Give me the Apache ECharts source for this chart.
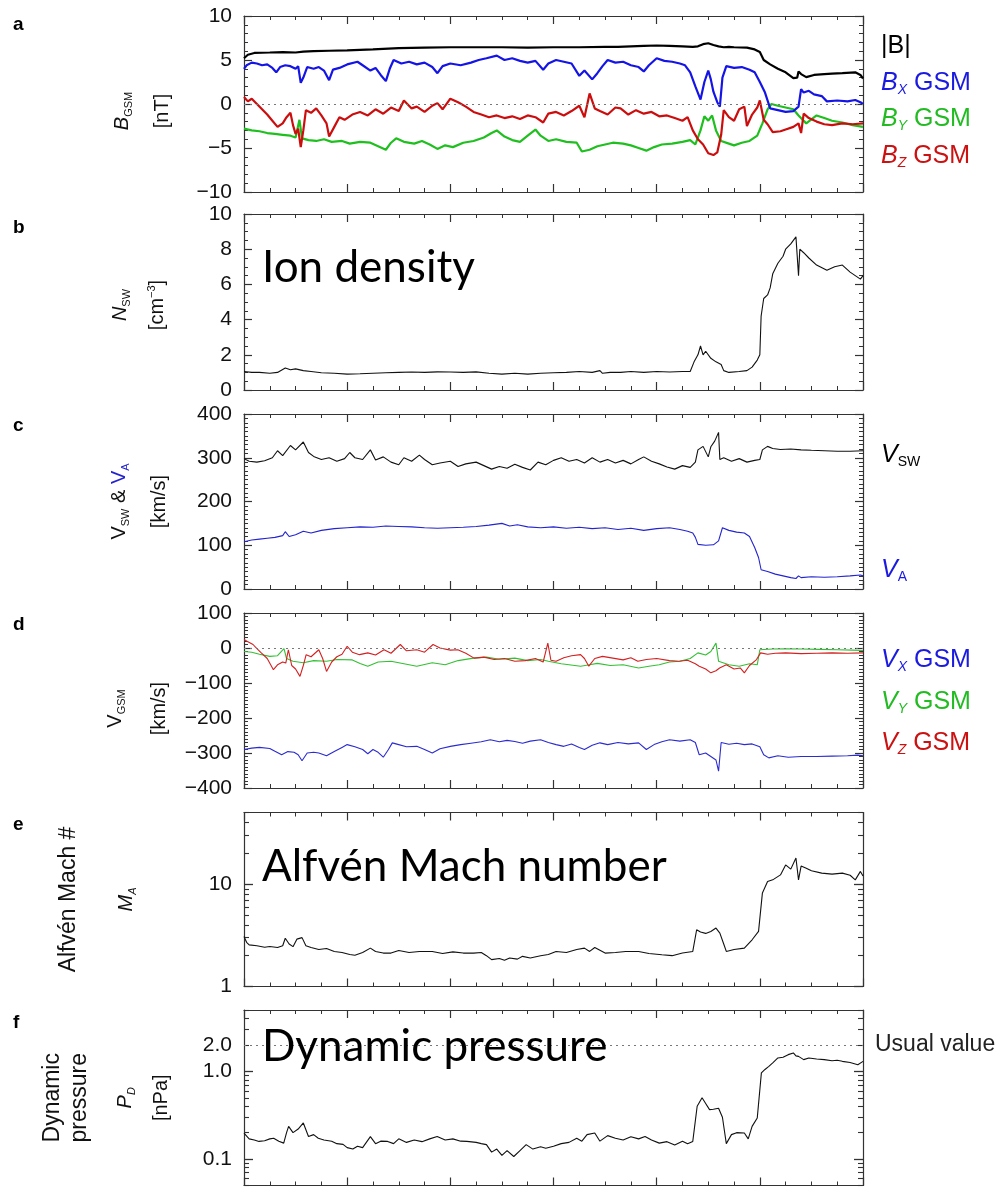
<!DOCTYPE html>
<html><head><meta charset="utf-8">
<script src="https://cdn.jsdelivr.net/npm/echarts@6/dist/echarts.min.js"></script>
<style>html,body{margin:0;padding:0;background:#fff}#c{width:1004px;height:1192px}</style>
</head><body><div id="c"></div><script>
// ---------- data (time in hours) ----------
const bAbs = [[0,5.2],[0.15,5.6],[0.4,5.8],[1,5.85],[1.5,5.9],[2,5.85],[2.3,5.95],[2.7,6.0],[3.3,6.05],[4,6.1],[5,6.2],[5.6,6.3],[6,6.35],[7,6.4],[8,6.45],[9,6.45],[10,6.45],[11,6.4],[12,6.45],[13,6.45],[14,6.5],[14.5,6.5],[15,6.55],[15.5,6.6],[16,6.65],[16.5,6.6],[17,6.55],[17.4,6.5],[17.6,6.55],[17.8,6.8],[18,6.9],[18.2,6.7],[18.4,6.55],[18.6,6.45],[18.8,6.5],[19,6.45],[19.5,6.4],[19.8,6.2],[20,5.9],[20.15,5.0],[20.4,4.5],[20.7,4.0],[21,3.6],[21.3,2.95],[21.45,3.0],[21.5,3.7],[21.6,3.4],[21.8,3.05],[22.1,3.3],[22.5,3.4],[22.8,3.45],[23.2,3.5],[23.7,3.6],[23.9,3.3],[24,2.9]];
const bX = [[0,4.0],[0.1,4.4],[0.3,4.7],[0.5,4.6],[0.7,4.4],[0.9,4.5],[1.1,4.1],[1.25,3.6],[1.4,4.2],[1.6,4.4],[1.8,4.3],[2.0,4.0],[2.1,4.3],[2.2,2.4],[2.3,3.0],[2.45,4.2],[2.7,4.0],[2.9,4.2],[3.1,3.8],[3.3,2.7],[3.45,3.9],[3.7,4.1],[4.0,4.5],[4.4,4.8],[4.6,4.4],[4.9,3.8],[5.1,4.1],[5.3,3.3],[5.5,2.6],[5.65,4.0],[5.8,5.0],[6.1,4.6],[6.4,4.8],[6.7,4.5],[7.0,4.7],[7.3,4.2],[7.5,3.5],[7.7,4.3],[8.0,4.6],[8.4,4.4],[8.8,4.7],[9.1,5.0],[9.4,5.2],[9.8,5.5],[10.1,5.0],[10.4,5.2],[10.7,4.9],[11.0,4.7],[11.3,4.9],[11.6,3.9],[11.8,4.6],[12.1,5.0],[12.4,4.8],[12.7,4.6],[13.0,3.2],[13.2,3.8],[13.5,2.8],[13.7,3.5],[13.9,4.3],[14.1,5.0],[14.4,4.7],[14.7,4.8],[15.0,4.4],[15.3,4.2],[15.5,3.7],[15.7,4.4],[16.0,5.2],[16.3,4.9],[16.6,4.8],[16.9,4.6],[17.1,4.4],[17.3,3.6],[17.5,2.0],[17.7,0.5],[17.85,2.5],[18.0,3.8],[18.1,2.8],[18.2,1.4],[18.35,0.2],[18.45,-0.3],[18.55,3.0],[18.7,4.3],[19.0,4.1],[19.3,4.2],[19.6,3.9],[19.8,3.6],[20.0,2.5],[20.2,1.3],[20.4,-0.5],[20.7,-0.7],[21.0,-0.9],[21.3,-0.8],[21.5,-0.3],[21.6,1.7],[21.7,1.3],[21.9,1.5],[22.1,1.1],[22.4,0.9],[22.6,0.3],[23.0,0.4],[23.4,0.3],[23.7,0.45],[23.9,0.2],[24,0.0]];
const bY = [[0,-2.8],[0.3,-3.0],[0.6,-3.1],[0.9,-3.3],[1.2,-3.4],[1.5,-3.5],[1.8,-3.6],[2.0,-3.8],[2.15,-1.8],[2.25,-3.9],[2.5,-4.1],[2.8,-4.2],[3.1,-4.0],[3.4,-4.3],[3.8,-4.2],[4.1,-4.5],[4.5,-4.3],[4.9,-4.4],[5.2,-4.8],[5.5,-5.2],[5.7,-4.4],[5.9,-3.9],[6.2,-4.3],[6.6,-4.5],[6.9,-4.2],[7.2,-4.6],[7.5,-5.1],[7.8,-4.7],[8.1,-4.9],[8.5,-4.4],[8.9,-4.2],[9.3,-3.8],[9.6,-3.3],[9.8,-3.0],[10.1,-3.7],[10.4,-4.1],[10.7,-4.3],[11.0,-3.6],[11.3,-2.9],[11.5,-3.6],[11.8,-4.2],[12.1,-4.0],[12.5,-4.3],[12.9,-4.4],[13.1,-5.4],[13.4,-5.2],[13.7,-4.8],[14.0,-4.6],[14.3,-4.4],[14.7,-4.5],[15.0,-4.7],[15.3,-5.0],[15.6,-5.3],[15.9,-4.9],[16.2,-4.6],[16.6,-4.5],[17.0,-4.3],[17.3,-4.1],[17.5,-4.6],[17.7,-3.0],[17.85,-1.4],[18.0,-1.9],[18.15,-1.3],[18.3,-3.0],[18.5,-4.2],[18.8,-4.5],[19.0,-4.7],[19.3,-4.4],[19.6,-4.2],[19.9,-3.6],[20.1,-2.2],[20.3,-0.6],[20.45,0.0],[20.7,-0.2],[21.0,-0.4],[21.3,-0.6],[21.5,-1.3],[21.8,-2.2],[22.2,-1.3],[22.5,-1.6],[22.8,-1.9],[23.2,-2.1],[23.6,-2.4],[24,-2.6]];
const bZ = [[0,0.8],[0.15,0.3],[0.3,0.6],[0.5,0.0],[0.7,-0.6],[0.9,-1.2],[1.1,-1.9],[1.3,-2.6],[1.5,-2.2],[1.65,-1.5],[1.8,-1.0],[1.9,-2.4],[2.0,-3.4],[2.1,-2.8],[2.2,-4.9],[2.3,-3.0],[2.4,-0.7],[2.6,-1.0],[2.8,-0.5],[3.0,-1.3],[3.2,-2.2],[3.3,-3.7],[3.5,-2.6],[3.7,-1.5],[3.9,-1.8],[4.2,-1.2],[4.5,-0.9],[4.8,-1.3],[5.1,-0.6],[5.4,-1.1],[5.7,-0.4],[6.0,-0.8],[6.2,0.4],[6.5,-0.5],[6.7,-0.3],[7.0,-0.9],[7.3,-0.2],[7.5,0.1],[7.7,-0.6],[8.0,0.6],[8.3,0.2],[8.6,-0.3],[8.9,-0.9],[9.2,-1.2],[9.5,-1.5],[9.8,-1.3],[10.1,-1.6],[10.4,-1.4],[10.7,-1.7],[11.0,-1.3],[11.3,-1.5],[11.6,-2.1],[11.8,-1.1],[12.1,-0.9],[12.4,-1.3],[12.7,-0.8],[13.0,-0.2],[13.2,-1.5],[13.4,1.2],[13.6,-0.5],[13.8,-0.8],[14.1,-1.2],[14.4,-0.4],[14.6,-0.5],[14.9,-1.2],[15.2,-0.7],[15.5,-1.1],[15.8,-0.9],[16.1,-1.4],[16.4,-1.3],[16.7,-1.6],[17.0,-1.9],[17.2,-1.5],[17.4,-3.0],[17.6,-4.0],[17.8,-4.6],[18.0,-5.6],[18.2,-5.8],[18.35,-5.5],[18.5,-3.5],[18.6,-0.7],[18.8,-1.5],[19.0,-1.9],[19.2,-0.6],[19.4,-0.3],[19.5,-2.5],[19.7,-1.2],[19.9,-0.4],[20.0,0.4],[20.15,-1.8],[20.3,-2.3],[20.5,-3.2],[20.8,-3.1],[21.0,-2.9],[21.3,-2.6],[21.5,-2.2],[21.6,-3.3],[21.7,-1.1],[21.9,-1.6],[22.2,-2.0],[22.5,-2.3],[22.8,-2.4],[23.2,-2.2],[23.6,-2.3],[24,-2.2]];
const nSw = [[0,1.05],[0.3,1.0],[0.6,1.0],[1.0,0.95],[1.3,1.0],[1.6,1.25],[1.8,1.15],[2.0,1.2],[2.3,1.1],[2.6,1.05],[3.0,0.98],[3.5,0.95],[4.0,0.9],[4.5,0.92],[5.0,0.95],[5.5,0.98],[6.0,1.0],[6.5,1.02],[7.0,1.0],[7.5,1.03],[8.0,1.02],[8.5,1.0],[9.0,1.03],[9.5,0.95],[10.0,0.9],[10.5,0.95],[11.0,0.9],[11.5,0.95],[12.0,0.98],[12.5,1.0],[13.0,1.05],[13.5,1.0],[13.8,1.1],[13.9,0.95],[14.2,1.0],[14.6,1.0],[15.0,1.05],[15.5,1.0],[16.0,1.05],[16.5,1.02],[17.0,1.05],[17.3,1.05],[17.45,1.6],[17.6,2.0],[17.7,2.5],[17.8,2.0],[17.9,2.2],[18.1,1.8],[18.3,1.6],[18.5,1.45],[18.6,1.1],[18.8,1.0],[19.2,1.05],[19.5,1.1],[19.7,1.3],[19.9,1.7],[20.0,2.0],[20.05,4.2],[20.15,5.2],[20.3,5.4],[20.4,5.8],[20.5,6.6],[20.7,7.2],[20.9,7.6],[21.0,8.0],[21.2,8.3],[21.4,8.7],[21.5,6.5],[21.55,8.0],[21.7,7.8],[21.9,7.5],[22.2,7.1],[22.6,6.8],[22.9,7.0],[23.2,7.1],[23.5,6.7],[23.9,6.3],[24,6.5]];
const vSw = [[0,298],[0.2,292],[0.5,290],[0.8,293],[1.1,300],[1.3,316],[1.5,305],[1.8,328],[2.0,318],[2.3,336],[2.5,312],[2.7,303],[3.0,296],[3.3,300],[3.6,292],[3.9,298],[4.1,312],[4.3,300],[4.6,296],[4.9,318],[5.1,295],[5.4,302],[5.7,290],[6.0,284],[6.2,300],[6.5,292],[6.8,306],[7.0,296],[7.3,284],[7.6,288],[8.0,292],[8.3,280],[8.6,286],[9.0,290],[9.3,282],[9.6,274],[9.9,280],[10.2,276],[10.5,285],[10.8,278],[11.1,272],[11.4,290],[11.7,284],[12.0,294],[12.3,300],[12.6,292],[12.9,296],[13.2,288],[13.5,300],[13.8,290],[14.1,296],[14.4,288],[14.7,294],[15.0,286],[15.3,296],[15.5,302],[15.8,292],[16.1,286],[16.4,279],[16.7,274],[17.0,282],[17.3,278],[17.5,290],[17.6,318],[17.8,326],[18.0,302],[18.1,325],[18.25,338],[18.4,358],[18.45,296],[18.6,300],[18.9,292],[19.2,298],[19.5,290],[19.8,294],[20.0,296],[20.1,318],[20.3,326],[20.5,321],[20.8,319],[21.2,320],[21.6,318],[22.0,317],[22.5,316],[23.0,315],[23.5,315],[24,316]];
const vA = [[0,108],[0.3,112],[0.6,114],[0.9,116],[1.2,118],[1.5,122],[1.6,131],[1.75,120],[2.0,124],[2.3,132],[2.6,128],[3.0,134],[3.5,138],[4.0,140],[4.5,142],[5.0,141],[5.5,144],[6.0,143],[6.5,142],[7.0,140],[7.5,139],[8.0,140],[8.5,141],[9.0,143],[9.5,146],[10.0,150],[10.3,144],[10.6,147],[11.0,142],[11.5,140],[12.0,142],[12.5,139],[13.0,141],[13.5,138],[14.0,140],[14.5,136],[15.0,139],[15.5,134],[16.0,138],[16.5,140],[16.9,136],[17.2,132],[17.4,128],[17.5,118],[17.6,102],[17.9,100],[18.2,101],[18.4,110],[18.55,140],[18.8,134],[19.1,130],[19.4,128],[19.6,120],[19.8,95],[19.95,72],[20.05,44],[20.3,40],[20.6,34],[20.9,30],[21.2,26],[21.4,24],[21.5,30],[21.6,26],[22.0,28],[22.5,27],[23.0,28],[23.5,30],[23.9,32],[24,30]];
const vX = [[0,-290],[0.3,-286],[0.6,-284],[1.0,-287],[1.2,-295],[1.46,-305],[1.7,-296],[1.94,-298],[2.1,-305],[2.25,-322],[2.45,-300],[2.7,-298],[2.9,-300],[3.2,-308],[3.5,-296],[3.8,-284],[4.0,-276],[4.3,-282],[4.6,-290],[4.8,-302],[5.0,-290],[5.2,-298],[5.4,-312],[5.6,-290],[5.75,-271],[6.0,-276],[6.3,-282],[6.7,-281],[7.0,-290],[7.3,-300],[7.6,-288],[8.0,-281],[8.4,-276],[8.8,-272],[9.2,-268],[9.55,-262],[9.9,-268],[10.2,-264],[10.5,-267],[10.8,-272],[11.1,-266],[11.5,-262],[11.8,-270],[12.1,-276],[12.4,-281],[12.7,-274],[13.0,-284],[13.2,-290],[13.5,-278],[13.8,-271],[14.1,-276],[14.5,-270],[14.9,-274],[15.3,-271],[15.6,-290],[15.9,-276],[16.2,-268],[16.5,-262],[16.9,-266],[17.3,-262],[17.5,-270],[17.65,-305],[17.9,-300],[18.1,-310],[18.3,-320],[18.4,-352],[18.5,-270],[18.8,-275],[19.1,-272],[19.4,-276],[19.7,-274],[20.0,-282],[20.15,-305],[20.35,-314],[20.7,-308],[21.1,-312],[21.6,-310],[22.2,-310],[22.8,-309],[23.4,-308],[23.8,-306],[24,-308]];
const vY = [[0,-10],[0.3,-12],[0.6,-18],[1.0,-24],[1.3,-22],[1.55,-2],[1.65,-30],[1.9,-38],[2.3,-42],[2.7,-36],[3.2,-38],[3.6,-33],[4.2,-34],[4.5,-44],[4.8,-52],[5.2,-40],[5.7,-38],[6.2,-45],[6.7,-52],[7.3,-42],[7.8,-48],[8.3,-36],[8.9,-29],[9.4,-26],[9.9,-32],[10.5,-29],[11.0,-36],[11.5,-33],[11.8,-38],[12.3,-45],[13.05,-52],[13.4,-48],[13.7,-44],[14.2,-50],[14.7,-48],[15.3,-57],[15.7,-52],[16.1,-48],[16.5,-40],[16.9,-38],[17.3,-30],[17.6,-14],[17.9,-20],[18.1,-10],[18.3,14],[18.4,-38],[18.8,-48],[19.2,-52],[19.6,-45],[19.9,-48],[20.0,-5],[20.5,-3],[21.0,-2],[21.6,-3],[22.3,-4],[23.0,-5],[23.6,-6],[24,-7]];
const vZ = [[0,24],[0.15,18],[0.35,10],[0.5,-2],[0.67,-14],[0.9,-30],[1.14,-62],[1.3,-48],[1.5,-40],[1.62,-43],[1.72,-5],[1.85,-50],[2.0,-60],[2.17,-81],[2.3,-50],[2.41,-19],[2.6,-25],[2.9,-5],[3.05,-30],[3.2,-67],[3.4,-40],[3.6,-25],[3.8,-18],[4.0,5],[4.2,-12],[4.48,-19],[4.8,-14],[5.1,-20],[5.43,-5],[5.7,-15],[6.06,10],[6.3,-8],[6.7,-5],[7.0,-12],[7.33,10],[7.6,0],[8.0,-6],[8.29,-5],[8.6,-15],[8.92,-29],[9.3,-26],[9.7,-33],[10.1,-30],[10.5,-38],[10.9,-36],[11.3,-30],[11.6,-40],[11.78,14],[11.9,-35],[12.1,-38],[12.4,-28],[12.7,-22],[13.05,-19],[13.2,-30],[13.37,-52],[13.6,-30],[13.9,-24],[14.3,-29],[14.7,-34],[15.0,-28],[15.27,-38],[15.6,-33],[16.0,-30],[16.5,-36],[16.86,-38],[17.2,-35],[17.5,-45],[17.65,-52],[17.9,-60],[18.1,-71],[18.3,-65],[18.44,-57],[18.7,-48],[19.0,-60],[19.24,-57],[19.4,-71],[19.6,-50],[19.87,-33],[20.03,-14],[20.3,-18],[20.6,-15],[21.0,-14],[21.6,-16],[22.2,-15],[22.8,-14],[23.4,-15],[24,-14]];
const mA = [[0,3.08],[0.1,2.7],[0.2,2.55],[0.5,2.5],[0.8,2.42],[1.0,2.46],[1.3,2.4],[1.5,2.5],[1.6,2.96],[1.75,2.6],[1.9,2.45],[2.05,2.9],[2.25,3.0],[2.4,2.5],[2.6,2.4],[2.9,2.3],[3.2,2.35],[3.5,2.2],[3.8,2.15],[4.1,2.05],[4.3,2.02],[4.6,2.15],[4.9,2.37],[5.1,2.2],[5.4,2.12],[5.7,2.12],[6.0,2.25],[6.4,2.15],[6.8,2.2],[7.3,2.2],[7.7,2.1],[8.1,2.18],[8.5,2.12],[8.9,2.12],[9.2,2.15],[9.4,2.0],[9.6,1.83],[9.9,1.88],[10.1,1.8],[10.3,1.9],[10.6,1.85],[10.8,1.97],[11.1,1.9],[11.5,2.0],[11.8,2.05],[12.1,2.2],[12.5,2.15],[12.9,2.3],[13.2,2.37],[13.4,2.2],[13.6,2.4],[14.0,2.12],[14.4,2.15],[14.8,2.2],[15.3,2.2],[15.7,2.1],[16.2,2.04],[16.6,2.0],[17.0,2.12],[17.4,2.2],[17.55,3.58],[17.7,3.4],[17.9,3.3],[18.1,3.45],[18.3,3.72],[18.45,3.32],[18.6,2.6],[18.7,2.2],[19.0,2.3],[19.4,2.37],[19.7,2.86],[19.95,3.45],[20.1,8.2],[20.3,10.6],[20.5,11.0],[20.8,12.3],[21.0,15.4],[21.2,14.0],[21.4,18.0],[21.5,11.0],[21.6,15.0],[21.8,14.3],[22.0,13.5],[22.4,12.8],[22.8,12.5],[23.2,12.8],[23.5,12.2],[23.7,11.0],[23.9,13.3],[24,12.0]];
const pD = [[0,0.198],[0.2,0.17],[0.4,0.165],[0.58,0.159],[0.8,0.162],[1.0,0.17],[1.15,0.173],[1.35,0.16],[1.54,0.152],[1.65,0.2],[1.73,0.236],[1.9,0.2],[2.1,0.22],[2.3,0.258],[2.5,0.181],[2.7,0.19],[2.88,0.173],[3.1,0.165],[3.4,0.16],[3.6,0.15],[3.84,0.147],[4.0,0.135],[4.22,0.13],[4.4,0.14],[4.6,0.135],[4.9,0.18],[5.1,0.15],[5.3,0.16],[5.57,0.159],[5.8,0.15],[6.0,0.17],[6.3,0.155],[6.6,0.165],[6.9,0.158],[7.2,0.17],[7.49,0.181],[7.8,0.165],[8.1,0.17],[8.4,0.16],[8.64,0.159],[9.0,0.155],[9.2,0.15],[9.4,0.146],[9.6,0.12],[9.8,0.13],[10.0,0.11],[10.2,0.125],[10.46,0.107],[10.7,0.125],[10.94,0.146],[11.2,0.13],[11.5,0.138],[11.7,0.133],[12.0,0.14],[12.3,0.15],[12.6,0.155],[12.9,0.173],[13.1,0.16],[13.3,0.19],[13.6,0.198],[13.8,0.16],[14.1,0.185],[14.4,0.173],[14.7,0.165],[15.0,0.18],[15.3,0.17],[15.55,0.181],[15.8,0.165],[16.1,0.152],[16.4,0.158],[16.7,0.145],[17.0,0.16],[17.2,0.15],[17.4,0.159],[17.57,0.40],[17.76,0.50],[17.9,0.43],[18.05,0.366],[18.2,0.37],[18.4,0.38],[18.55,0.3],[18.7,0.15],[18.9,0.19],[19.1,0.2],[19.4,0.198],[19.55,0.17],[19.7,0.236],[19.9,0.294],[20.06,0.96],[20.2,1.05],[20.35,1.14],[20.5,1.25],[20.7,1.42],[20.9,1.45],[21.1,1.55],[21.3,1.62],[21.4,1.5],[21.5,1.48],[21.7,1.36],[21.9,1.42],[22.2,1.38],[22.5,1.36],[22.8,1.32],[23.0,1.34],[23.2,1.30],[23.5,1.26],[23.8,1.19],[24,1.3]];

// axis extents / tick values
const ticksA = [-10, 10, 5];      // min, max, interval
const ticksB = [0, 10, 2];
const ticksC = [0, 400, 100];
const ticksD = [-400, 100, 100];
const ticksE = [1, 50];           // log axis extent
const labelsE = [1, 10];
const minorE = [2,3,4,5,6,7,8,9,20,30,40,50];
const ticksF = [0.05, 5];
const labelsF = [0.1, 1, 2];
const majorF = [0.1, 1];
const minorF = [0.05,0.06,0.07,0.08,0.09,0.2,0.3,0.4,0.5,0.6,0.7,0.8,0.9,2,3,4,5];
const usualValue = 2;

// ---------- styling ----------
const F = '"Liberation Sans", Arial, Helvetica, sans-serif';
const AXC = '#333';
const boxes = [
  {top: 16, height: 176},
  {top: 214, height: 176},
  {top: 414, height: 175},
  {top: 613, height: 175},
  {top: 812.5, height: 174},
  {top: 1010, height: 175.5},
  {top: 812.5, height: 174},   // overlay grid for minor log ticks (e)
  {top: 1010, height: 175.5}   // overlay grid for minor log ticks (f)
];
const grid = boxes.map(b => ({left: 244, width: 619, top: b.top, height: b.height}));

const xAxis = [];
boxes.forEach((b, i) => {
  ['bottom', 'top'].forEach(pos => xAxis.push({
    type: 'value', gridIndex: i, position: pos, min: 0, max: 24, interval: 4, show: i < 6,
    axisLine: {show: true, onZero: false, lineStyle: {color: AXC, width: 1.2}},
    axisTick: {show: true, inside: true, length: 8, lineStyle: {color: AXC, width: 1.2}},
    minorTick: {show: true, splitNumber: 4, length: 4, lineStyle: {color: AXC, width: 1}},
    axisLabel: {show: false}, splitLine: {show: false}, minorSplitLine: {show: false}
  }));
});

const minusFmt = v => (v < 0 ? '\u2212' + Math.abs(v) : String(v));
const yAxis = [];
function addLin(gi, t, minorSplit, name, rich, nameGap, namePad) {
  const idx = yAxis.length;
  ['left', 'right'].forEach(pos => {
    const ax = {
      type: 'value', gridIndex: gi, position: pos, min: t[0], max: t[1], interval: t[2],
      axisLine: {show: true, onZero: false, lineStyle: {color: AXC, width: 1.2}},
      axisTick: {show: true, inside: true, length: 8, lineStyle: {color: AXC, width: 1.2}},
      minorTick: {show: true, splitNumber: minorSplit, length: 4, lineStyle: {color: AXC, width: 1}},
      axisLabel: {show: pos === 'left', margin: 12, color: '#111', fontSize: 21, fontFamily: F, formatter: minusFmt},
      splitLine: {show: false}, minorSplitLine: {show: false}
    };
    if (pos === 'left') Object.assign(ax, {
      name, nameLocation: 'middle', nameRotate: 90, nameGap, nameMoveOverlap: false,
      nameTextStyle: {fontFamily: F, color: '#111', rich, padding: namePad || 0}
    });
    yAxis.push(ax);
  });
  return idx;
}
function addLog(gi, gMinor, ext, labels, majors, minors, fmt, name, rich, nameGap) {
  const idx = yAxis.length;
  ['left', 'right'].forEach(pos => {
    const ax = {
      type: 'log', logBase: 10, gridIndex: gi, position: pos, min: ext[0], max: ext[1],
      axisLine: {show: true, onZero: false, lineStyle: {color: AXC, width: 1.2}},
      axisTick: {show: true, inside: true, length: 9, customValues: majors, lineStyle: {color: AXC, width: 1.3}},
      axisLabel: {show: pos === 'left', customValues: labels, margin: 12, color: '#111', fontSize: 21, fontFamily: F, formatter: fmt},
      splitLine: {show: false}
    };
    if (pos === 'left') Object.assign(ax, {
      name, nameLocation: 'middle', nameRotate: 90, nameGap, nameMoveOverlap: false,
      nameTextStyle: {fontFamily: F, color: '#111', rich}
    });
    yAxis.push(ax);
  });
  ['left', 'right'].forEach(pos => yAxis.push({
    type: 'log', logBase: 10, gridIndex: gMinor, position: pos, min: ext[0], max: ext[1],
    axisLine: {show: false, onZero: false},
    axisTick: {show: true, inside: true, length: 5, customValues: minors, lineStyle: {color: AXC, width: 1.1}},
    axisLabel: {show: false}, splitLine: {show: false}
  }));
  return idx;
}

const big = (extra) => Object.assign({fontFamily: F, fontSize: 20, color: '#111'}, extra || {});
const yA = addLin(0, ticksA, 5, '{i|B}{s|GSM}\n{n|[nT]}', {
  i: big({fontStyle: 'italic', lineHeight: 56}), s: big({fontSize: 11, lineHeight: 12, padding: [14, 0, 0, 0]}),
  n: big({lineHeight: 24})}, 70, [0, 14, 0, 0]);
const yB = addLin(1, ticksB, 4, '{i|N}{s|SW}\n{n|[cm}{p|\u22123}{n|]}', {
  i: big({fontStyle: 'italic', lineHeight: 52}), s: big({fontSize: 11, lineHeight: 12, padding: [14, 0, 0, 0]}),
  n: big({lineHeight: 22}), p: big({fontSize: 11, lineHeight: 12, padding: [0, 0, 10, 0]})}, 76, [0, 6, 0, 0]);
const yC = addLin(2, ticksC, 10, '{v|V}{s|SW}{n| & }{b|V}{bs|A}\n{n|[km/s]}', {
  v: big({lineHeight: 58}), s: big({fontSize: 11, lineHeight: 12, padding: [14, 0, 0, 0]}),
  n: big({lineHeight: 22}), b: big({lineHeight: 58, color: '#2323d0'}),
  bs: big({fontSize: 11, lineHeight: 12, padding: [14, 0, 0, 0], color: '#2323d0'})}, 74);
const yD = addLin(3, ticksD, 10, '{v|V}{s|GSM}\n{n|[km/s]}', {
  v: big({lineHeight: 66}), s: big({fontSize: 11, lineHeight: 12, padding: [14, 0, 0, 0]}),
  n: big({lineHeight: 22})}, 74, [0, 16, 0, 0]);
const yE = addLog(4, 6, ticksE, labelsE, labelsE, minorE, v => String(Math.round(v)),
  '{t|Alfv\u00e9n Mach #}\n{i|M}{s|A}', {
  t: big({fontSize: 23, lineHeight: 66}), i: big({fontStyle: 'italic', lineHeight: 48}),
  s: big({fontSize: 11, fontStyle: 'italic', lineHeight: 12, padding: [14, 0, 0, 0]})}, 94);
const yF = addLog(5, 7, ticksF, labelsF, majorF, minorF, v => v.toFixed(1),
  '{t|Dynamic}\n{u|pressure}\n{i|P}{s|D}\n{n|[nPa]}', {
  t: big({fontSize: 23, lineHeight: 18}), u: big({fontSize: 23, lineHeight: 36}),
  i: big({fontStyle: 'italic', lineHeight: 54}), s: big({fontSize: 11, fontStyle: 'italic', lineHeight: 12, padding: [14, 0, 0, 0]}),
  n: big({lineHeight: 18})}, 74);

function line(data, gi, yi, color, width, extra) {
  return Object.assign({
    type: 'line', data, xAxisIndex: gi * 2, yAxisIndex: yi, showSymbol: false, symbol: 'none',
    lineStyle: {color, width}, itemStyle: {color}, animation: false, silent: true, z: 3
  }, extra || {});
}
const dotted = (val, label) => ({
  silent: true, symbol: 'none', animation: false,
  lineStyle: {type: [2, 4], color: '#777', width: 1},
  label: label ? {show: true, position: 'end', distance: 12, formatter: label, color: '#222', fontSize: 23, fontFamily: F} : {show: false},
  data: [{yAxis: val}]
});

const series = [
  line(bAbs, 0, yA, '#000', 2.2),
  line(bY, 0, yA, '#1fbf1f', 2.2),
  line(bZ, 0, yA, '#cc0d0d', 2.2, {markLine: dotted(0)}),
  line(bX, 0, yA, '#1414e6', 2.2),
  line(nSw, 1, yB, '#111', 1.1),
  line(vSw, 2, yC, '#111', 1.1),
  line(vA, 2, yC, '#2323d0', 1.1),
  line(vY, 3, yD, '#33c033', 1.1, {markLine: dotted(0)}),
  line(vZ, 3, yD, '#d42020', 1.1),
  line(vX, 3, yD, '#2b2bd0', 1.1),
  line(mA, 4, yE, '#111', 1.1),
  line(pD, 5, yF, '#111', 1.1, {markLine: dotted(usualValue, 'Usual value')})
];

// ---------- text decorations ----------
const T = (x, y, text, rich, extra) => ({type: 'text', x, y, silent: true, z: 10,
  style: Object.assign({text, rich, verticalAlign: 'middle', align: 'left', fontFamily: F}, extra || {})});
const rl = (c) => ({
  i: {fontStyle: 'italic', fontSize: 25, fontFamily: F, fill: c, lineHeight: 30},
  s: {fontStyle: 'italic', fontSize: 14, fontFamily: F, fill: c, lineHeight: 14, padding: [14, 0, 0, 0]},
  u: {fontSize: 14, fontFamily: F, fill: c, lineHeight: 14, padding: [14, 0, 0, 0]},
  n: {fontSize: 25, fontFamily: F, fill: c, lineHeight: 30}
});
const BLUE = '#1a1ae0', GREEN = '#22bb22', RED = '#cc1111';
const letters = [['a', 25], ['b', 228], ['c', 426], ['d', 625], ['e', 825], ['f', 1023]];
const graphic = [
  ...letters.map(([l, y]) => T(13, y, l, undefined, {fontSize: 19, fontWeight: 'bold', fontFamily: F, fill: '#000'})),
  T(881, 46, '{n||B|}', rl('#000')),
  T(881, 83, '{i|B}{s|X}{n| GSM}', rl(BLUE)),
  T(881, 119, '{i|B}{s|Y}{n| GSM}', rl(GREEN)),
  T(881, 156, '{i|B}{s|Z}{n| GSM}', rl(RED)),
  T(881, 455, '{i|V}{u|SW}', rl('#000')),
  T(881, 570, '{i|V}{u|A}', rl(BLUE)),
  T(881, 660, '{i|V}{s|X}{n| GSM}', rl(BLUE)),
  T(881, 702, '{i|V}{s|Y}{n| GSM}', rl(GREEN)),
  T(881, 743, '{i|V}{s|Z}{n| GSM}', rl(RED)),
  T(262, 268, 'Ion density', undefined, {fontSize: 44, fontFamily: 'Lato', fill: '#000'}),
  T(262, 867, 'Alfv\u00e9n Mach number', undefined, {fontSize: 44, fontFamily: 'Lato', fill: '#000'}),
  T(262, 1047, 'Dynamic pressure', undefined, {fontSize: 44, fontFamily: 'Lato', fill: '#000'})
];

const chart = echarts.init(document.getElementById('c'), null, {renderer: 'canvas'});
chart.setOption({animation: false, backgroundColor: '#fff', grid, xAxis, yAxis, series, graphic});
</script></body></html>
